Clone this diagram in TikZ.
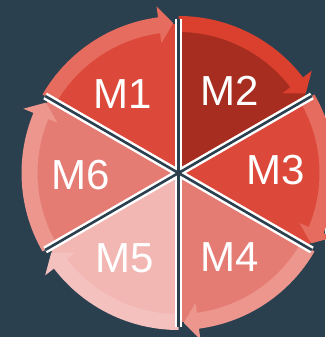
\documentclass[tikz,border=0pt]{standalone}
\usepackage{fontspec}
\setmainfont{Liberation Sans}
\definecolor{bg}{HTML}{2A404F}
\definecolor{mai}{HTML}{DC493A}
\definecolor{mab}{HTML}{E56C5E}
\definecolor{mbi}{HTML}{A62D1F}
\definecolor{mbb}{HTML}{DA402D}
\definecolor{mdi}{HTML}{E57C74}
\definecolor{mdb}{HTML}{EC968D}
\definecolor{mei}{HTML}{F2B6B3}
\definecolor{meb}{HTML}{F4C1BE}
\tikzset{
  lbl/.style={text=white, font=\fontsize{42}{42}\selectfont, inner sep=0pt, anchor=center},
  sepw/.style={draw=white, line width=7.5pt},
  sepd/.style={draw=bg, line width=2.6pt}
}
\begin{document}
\begin{tikzpicture}[x=1pt,y=1pt]
\fill[bg] (0,0) rectangle (325,337);
\useasboundingbox (0,0) rectangle (325,337);
\coordinate (C) at (178.5,164);
\foreach \s/\ci/\cb in {150/mai/mab, 90/mbi/mbb, 30/mai/mab, -30/mdi/mdb, -90/mei/meb, -150/mdi/mdb} {
  \pgfmathsetmacro\e{\s-60}
  \pgfmathsetmacro\hb{\e+7.5}
  \pgfmathsetmacro\ht{\e+2}
  \fill[\ci] (C) -- ([shift={(C)}]\s:149) arc[start angle=\s, end angle=\e, radius=149] -- cycle;
  \fill[\cb] ([shift={(C)}]\s:141) arc[start angle=\s, end angle=\hb, radius=141]
     -- ([shift={(C)}]\hb:131) -- ([shift={(C)}]\ht:150) -- ([shift={(C)}]\hb:168)
     -- ([shift={(C)}]\hb:157) arc[start angle=\hb, end angle=\s, radius=157] -- cycle;
}
\foreach \a in {90,30,-30,-90,-150,150} {
  \coordinate (e\a) at ([shift={(C)}]\a:154);
}
\foreach \a in {90,30,-30,-90,-150,150} { \draw[sepw] (C) -- (e\a); }
\foreach \a in {90,30,-30,-90,-150,150} { \draw[sepd] (C) -- (e\a); }
\node[lbl] (m1) at (122.5,243) {M1};
\node[lbl] (m2) at (230,246) {M2};
\node[lbl] (m3) at (276,167) {M3};
\node[lbl] (m4) at (229.5,80) {M4};
\node[lbl] (m5) at (124.5,79) {M5};
\node[lbl] (m6) at (81,161.5) {M6};
\end{tikzpicture}
\end{document}
